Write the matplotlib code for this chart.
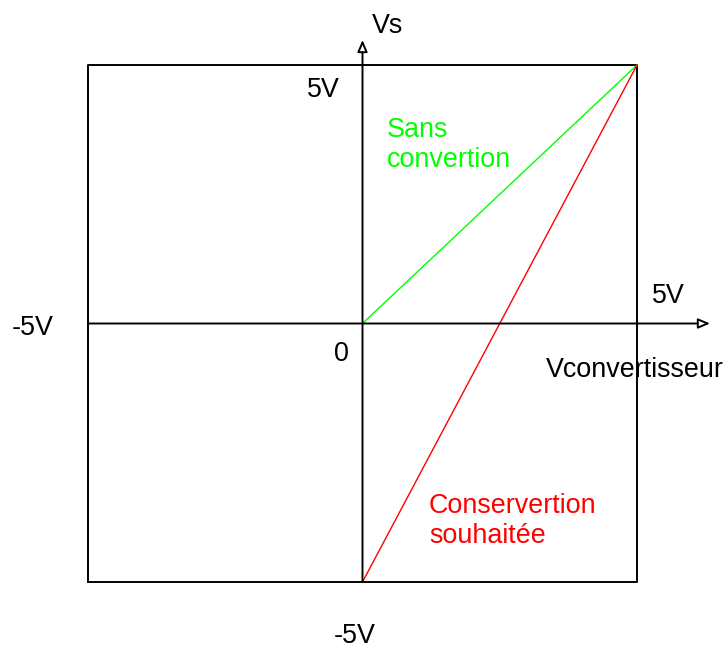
import matplotlib.pyplot as plt

plt.rcParams['font.family'] = ['Liberation Sans', 'DejaVu Sans']

# volts
vmax = 5
sans_x = [0, 5]
sans_y = [0, 5]
cons_x = [0, 5]
cons_y = [-5, 5]
box_x = [-5, 5, 5, -5, -5]
box_y = [-5, -5, 5, 5, -5]

W, H = 725, 648
# pixel geometry of the reference
px_left, px_right = 88, 637
px_top, px_bot = 65, 582
cx = (px_left + px_right) / 2
cy = (px_top + px_bot) / 2
sx = (px_right - px_left) / (2 * vmax)
sy = (px_bot - px_top) / (2 * vmax)


def P(x, y):
    # pixel -> volts
    return (x - cx) / sx, (cy - y) / sy


fig = plt.figure(figsize=(W / 100, H / 100), dpi=100)
ax = fig.add_axes([0, 0, 1, 1])
ax.set_xlim(P(0, 0)[0], P(W, 0)[0])
ax.set_ylim(P(0, H)[1], P(0, 0)[1])
ax.axis('off')

ax.plot(box_x, box_y, color='black', lw=1.4)

# axes arrows
arr = dict(arrowstyle='-|>,head_length=0.7,head_width=0.3', color='black',
           lw=1.4, fc='white', shrinkA=0, shrinkB=0)
ax.annotate('', xy=P(710, cy), xytext=(-5, 0), arrowprops=arr)
ax.annotate('', xy=P(cx, 40), xytext=(0, -5), arrowprops=arr)

ax.plot(sans_x, sans_y, color='#00ff00', lw=1.0)
ax.plot(cons_x, cons_y, color='#ff0000', lw=1.0)

fs = 19.4
txt = dict(fontsize=fs, ha='left', va='baseline', color='black')
ax.text(*P(372, 33), 'Vs', **txt)
ax.text(*P(307, 97), '5V', **txt)
ax.text(*P(652, 303), '5V', **txt)
ax.text(*P(12, 335), '-5V', **txt)
ax.text(*P(334, 361), '0', **txt)
ax.text(*P(546, 377), 'Vconvertisseur', **txt)
ax.text(*P(334, 643), '-5V', **txt)

ax.text(*P(387, 117), 'Sans\nconvertion', fontsize=fs, ha='left',
        va='top', color='#00ff00', linespacing=1.22)
ax.text(*P(429, 493), 'Conservertion\nsouhaitée', fontsize=fs, ha='left',
        va='top', color='#ff0000', linespacing=1.22)

fig.savefig('out.png', dpi=100)
